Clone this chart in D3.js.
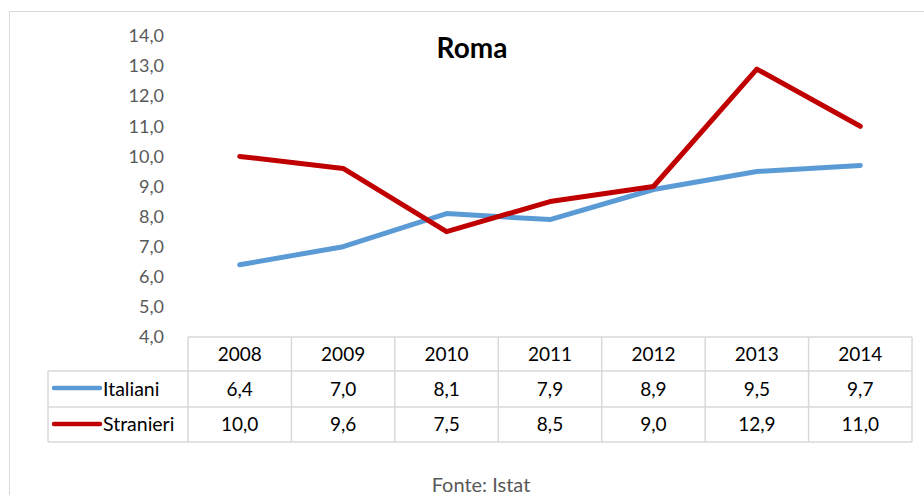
<!DOCTYPE html>
<html lang="it">
<head>
  <meta charset="UTF-8">
  <title>Roma</title>
  <script src="https://d3js.org/d3.v7.min.js"></script>
  <style>
    body { margin: 0; padding: 0; background: #fff; }
    svg { display: block; font-family: Lato, "Open Sans", sans-serif; }
  </style>
</head>
<body>
  <div id="chart"></div>
  <script>
    const years = ["2008", "2009", "2010", "2011", "2012", "2013", "2014"];
    const italiani = [6.4, 7.0, 8.1, 7.9, 8.9, 9.5, 9.7];
    const stranieri = [10.0, 9.6, 7.5, 8.5, 9.0, 12.9, 11.0];
    const yTicks = [4, 5, 6, 7, 8, 9, 10, 11, 12, 13, 14];

    const series = [
      { name: "Italiani", values: italiani, color: "#5B9BD5" },
      { name: "Stranieri", values: stranieri, color: "#C00000" }
    ];

    const width = 924, height = 495;
    const fmt = v => d3.format(".1f")(v).replace(".", ",");

    const svg = d3.select("#chart").append("svg")
      .attr("width", width)
      .attr("height", height);

    // chart frame
    svg.append("rect")
      .attr("x", 9.5).attr("y", 11.5)
      .attr("width", width).attr("height", height)
      .attr("fill", "#fff")
      .attr("stroke", "#D9D9D9");

    const x = d3.scaleBand().domain(years).range([188, 912]);
    const y = d3.scaleLinear().domain([4, 14]).range([337, 36]);

    // y axis labels only
    const yAxis = svg.append("g")
      .attr("transform", "translate(188,0)")
      .call(d3.axisLeft(y).tickValues(yTicks).tickFormat(fmt).tickSize(0).tickPadding(24));
    yAxis.select(".domain").remove();
    yAxis.selectAll("text")
      .attr("font-family", "Lato, sans-serif")
      .attr("font-size", 18)
      .attr("fill", "#595959");

    // title
    svg.append("text")
      .attr("x", 472).attr("y", 58)
      .attr("text-anchor", "middle")
      .attr("font-size", 28)
      .attr("font-weight", "bold")
      .attr("fill", "#000")
      .text("Roma");

    // lines
    const line = d3.line()
      .x((d, i) => x(years[i]) + x.bandwidth() / 2)
      .y(d => y(d));

    svg.append("g").selectAll("path")
      .data(series)
      .join("path")
      .attr("d", d => line(d.values))
      .attr("fill", "none")
      .attr("stroke", d => d.color)
      .attr("stroke-width", 5)
      .attr("stroke-linecap", "round")
      .attr("stroke-linejoin", "round");

    // data table
    const rowTop = [337, 371, 407];
    const rowBottom = 442;
    const legendLeft = 48;
    const tbl = svg.append("g")
      .attr("stroke", "#D9D9D9")
      .attr("stroke-width", 1.5);

    // horizontal lines
    tbl.append("line").attr("x1", 188).attr("x2", 912).attr("y1", rowTop[0]).attr("y2", rowTop[0]);
    [rowTop[1], rowTop[2], rowBottom].forEach(yy => {
      tbl.append("line").attr("x1", legendLeft).attr("x2", 912).attr("y1", yy).attr("y2", yy);
    });
    // vertical lines
    years.forEach(yr => {
      tbl.append("line").attr("x1", x(yr)).attr("x2", x(yr)).attr("y1", rowTop[0]).attr("y2", rowBottom);
    });
    tbl.append("line").attr("x1", 912).attr("x2", 912).attr("y1", rowTop[0]).attr("y2", rowBottom);
    tbl.append("line").attr("x1", legendLeft).attr("x2", legendLeft).attr("y1", rowTop[1]).attr("y2", rowBottom);

    // header row
    svg.append("g").selectAll("text")
      .data(years)
      .join("text")
      .attr("x", d => x(d) + x.bandwidth() / 2)
      .attr("y", 361)
      .attr("text-anchor", "middle")
      .attr("font-size", 19)
      .attr("fill", "#000")
      .text(d => d);

    // series rows
    const baselines = [396, 431];
    const legendY = [388, 424];
    series.forEach((s, si) => {
      const g = svg.append("g");
      g.append("line")
        .attr("x1", 54).attr("x2", 100)
        .attr("y1", legendY[si]).attr("y2", legendY[si])
        .attr("stroke", s.color)
        .attr("stroke-width", 4.5)
        .attr("stroke-linecap", "round");
      g.append("text")
        .attr("x", 103).attr("y", baselines[si])
        .attr("font-size", 19.5)
        .attr("fill", "#000")
        .text(s.name);
      g.selectAll(".val")
        .data(s.values)
        .join("text")
        .attr("class", "val")
        .attr("x", (d, i) => x(years[i]) + x.bandwidth() / 2)
        .attr("y", baselines[si])
        .attr("text-anchor", "middle")
        .attr("font-size", 19)
        .attr("fill", "#000")
        .text(fmt);
    });

    // source
    svg.append("text")
      .attr("x", 481).attr("y", 492)
      .attr("text-anchor", "middle")
      .attr("font-size", 20)
      .attr("fill", "#595959")
      .text("Fonte: Istat");
  </script>
</body>
</html>
